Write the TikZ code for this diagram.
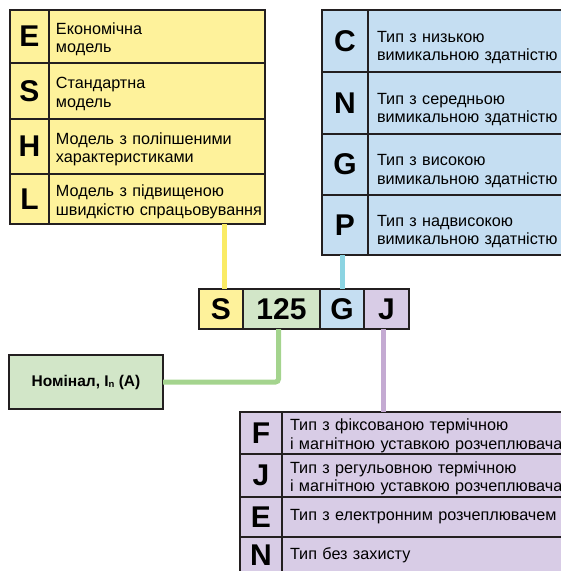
\documentclass[tikz,border=0pt]{standalone}
\usepackage{fontspec}
\setmainfont{Liberation Sans}
\usepackage{tikz}
\usepackage{xcolor}
\usetikzlibrary{positioning}
\definecolor{frame}{RGB}{35,31,32}
\definecolor{yfill}{RGB}{254,242,155}
\definecolor{gfill}{RGB}{210,230,200}
\definecolor{bfill}{RGB}{197,222,242}
\definecolor{pfill}{RGB}{216,204,230}
\definecolor{yline}{RGB}{250,235,100}
\definecolor{gline}{RGB}{164,212,142}
\definecolor{bline}{RGB}{140,212,226}
\definecolor{pline}{RGB}{196,170,210}
\tikzset{every picture/.style={line width=0.75pt}}
\tikzset{
  cell/.style={draw=frame, line width=2.5pt, inner sep=0pt, outer sep=0pt, anchor=north west},
  letter/.style={cell, minimum width=39pt, font=\bfseries\fontsize{30}{30}\selectfont},
  desc/.style={cell, inner xsep=8pt, align=left, font=\fontsize{16.2}{18.5}\selectfont},
  twoline/.style={text height=#1},
  code/.style={cell, minimum height=40pt, font=\bfseries\fontsize{30}{30}\selectfont},
  link/.style={line width=5pt},
}

\begin{document}
\begin{tikzpicture}[x=1pt,y=1pt,yscale=-1,xscale=1]
\useasboundingbox (0,0) rectangle (561,571);
\clip (0,0) rectangle (561,571);

% Yellow table
\draw (10,10) node (yE) [letter, fill=yfill, minimum height=53pt] {E};
\draw node (yEt) [desc, twoline=17pt, fill=yfill, inner xsep=7pt, text width=202pt, minimum height=53pt, right=0pt of yE] {Економічна\\модель};
\draw node (yS) [letter, fill=yfill, minimum height=56pt, below=0pt of yE] {S};
\draw node (ySt) [desc, twoline=17pt, fill=yfill, inner xsep=7pt, text width=202pt, minimum height=56pt, right=0pt of yS] {Стандартна\\модель};
\draw node (yH) [letter, fill=yfill, minimum height=55pt, below=0pt of yS] {H};
\draw node (yHt) [desc, twoline=17pt, fill=yfill, inner xsep=7pt, text width=202pt, minimum height=55pt, right=0pt of yH] {Модель з поліпшеними\\характеристиками};
\draw node (yL) [letter, fill=yfill, minimum height=50pt, below=0pt of yH] {L};
\draw node (yLt) [desc, twoline=17pt, fill=yfill, inner xsep=7pt, text width=202pt, minimum height=50pt, right=0pt of yL] {Модель з підвищеною\\\mbox{швидкістю спрацьовування}};

% Blue table
\draw (322,10) node (bC) [letter, fill=bfill, minimum width=46pt, minimum height=62pt] {C};
\draw node (bCt) [desc, twoline=24pt, fill=bfill, inner xsep=9pt, text width=264pt, minimum height=62pt, right=0pt of bC] {Тип з низькою\\вимикальною здатністю};
\draw node (bN) [letter, fill=bfill, minimum width=46pt, minimum height=62pt, below=0pt of bC] {N};
\draw node (bNt) [desc, twoline=24pt, fill=bfill, inner xsep=9pt, text width=264pt, minimum height=62pt, right=0pt of bN] {Тип з середньою\\вимикальною здатністю};
\draw node (bG) [letter, fill=bfill, minimum width=46pt, minimum height=61pt, below=0pt of bN] {G};
\draw node (bGt) [desc, twoline=24pt, fill=bfill, inner xsep=9pt, text width=264pt, minimum height=61pt, right=0pt of bG] {Тип з високою\\вимикальною здатністю};
\draw node (bP) [letter, fill=bfill, minimum width=46pt, minimum height=60pt, below=0pt of bG] {P};
\draw node (bPt) [desc, twoline=24pt, fill=bfill, inner xsep=9pt, text width=264pt, minimum height=60pt, right=0pt of bP] {Тип з надвисокою\\вимикальною здатністю};

% Code bar
\draw (199,289) node (cS) [code, fill=yfill, minimum width=44pt] {S};
\draw node (c125) [code, fill=gfill, minimum width=77pt, right=0pt of cS] {125};
\draw node (cG) [code, fill=bfill, minimum width=44pt, right=0pt of c125] {G};
\draw node (cJ) [code, fill=pfill, minimum width=45pt, right=0pt of cG] {J};

% Rating box
\draw (9,355) node (nom) [cell, fill=gfill, minimum width=154pt, minimum height=54pt, font=\bfseries\fontsize{15.5}{17}\selectfont] {Номінал, I\raisebox{-0.2ex}{\fontsize{9.5}{9.5}\selectfont n} (A)};

% Purple table
\draw (240,412) node (pF) [letter, fill=pfill, minimum width=42pt, minimum height=42pt] {F};
\draw node (pFt) [desc, twoline=17pt, fill=pfill, text width=284pt, minimum height=42pt, right=0pt of pF] {Тип з фіксованою термічною\\і магнітною уставкою розчеплювача};
\draw node (pJ) [letter, fill=pfill, minimum width=42pt, minimum height=43pt, below=0pt of pF] {J};
\draw node (pJt) [desc, twoline=17pt, fill=pfill, text width=284pt, minimum height=43pt, right=0pt of pJ] {Тип з регульовною термічною\\і магнітною уставкою розчеплювача};
\draw node (pE) [letter, fill=pfill, minimum width=42pt, minimum height=40pt, below=0pt of pJ] {E};
\draw node (pEt) [desc, fill=pfill, text width=284pt, minimum height=40pt, right=0pt of pE] {Тип з електронним розчеплювачем};
\draw node (pN) [letter, fill=pfill, minimum width=42pt, minimum height=36pt, below=0pt of pE] {N};
\draw node (pNt) [desc, fill=pfill, text width=284pt, minimum height=36pt, right=0pt of pN] {Тип без захисту};

% Connectors
\draw [link, yline] ([xshift=3pt]cS.north) -- ([xshift=3pt]cS.north |- yLt.south);
\draw [link, bline] (cG.north) -- (cG.north |- bPt.south);
\draw [link, gline, rounded corners=3pt] ([xshift=-3pt]c125.south) |- (nom.east);
\draw [link, pline] ([xshift=-3pt]cJ.south) -- ([xshift=-3pt]cJ.south |- pFt.north);
\end{tikzpicture}
\end{document}
